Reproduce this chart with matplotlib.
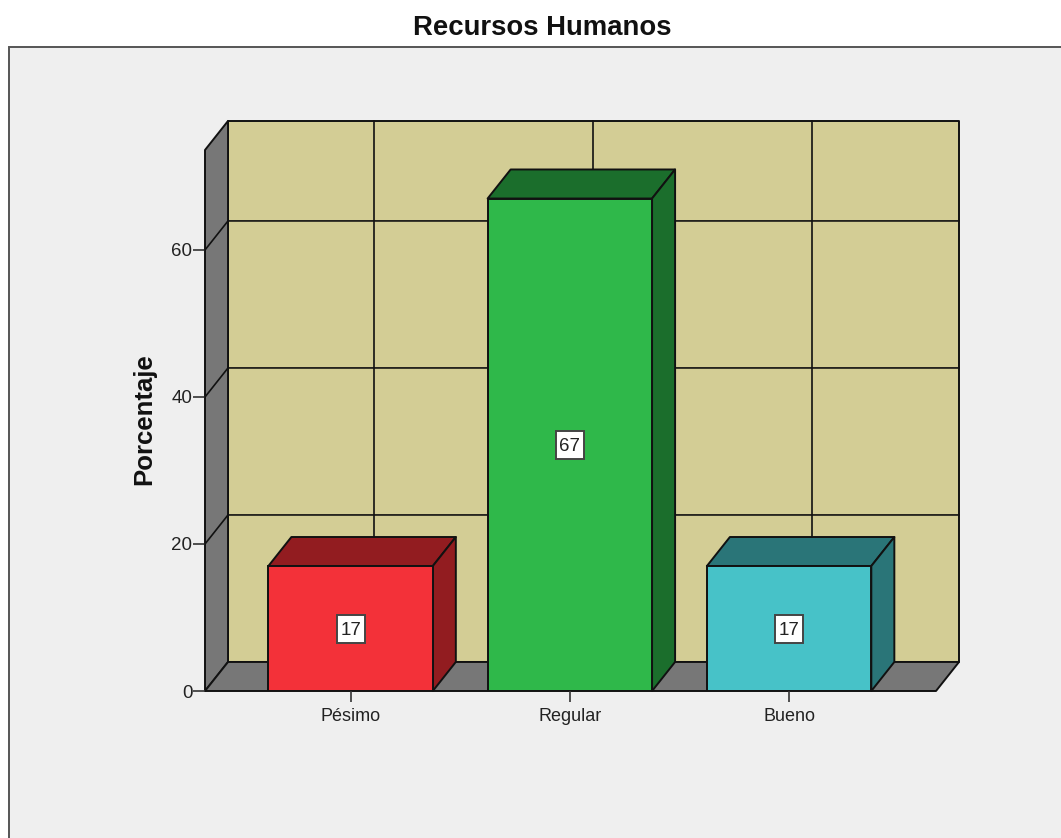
import matplotlib
matplotlib.use('Agg')
import matplotlib.pyplot as plt
from matplotlib.patches import Polygon, Rectangle

categories = ['Pésimo', 'Regular', 'Bueno']
values = [17, 67, 17]
y_ticks = [0, 20, 40, 60]
front_colors = ['#f33139', '#2fb84a', '#47c2c8']
shade_colors = ['#921c20', '#1b6e2c', '#2a7578']

W, H = 1061, 838
WALL = '#d3cd95'
SIDE = '#777777'
PANEL = '#efefef'
INK = '#111111'

plt.rcParams['font.family'] = ['Liberation Sans', 'DejaVu Sans']

fig = plt.figure(figsize=(W / 100, H / 100), dpi=100, facecolor='white')

# panel behind the chart, runs off the right and bottom edges
fig.add_artist(Rectangle((9 / W, -0.02), 1.1, 1 - 47 / H + 0.02, transform=fig.transFigure,
                         facecolor=PANEL, edgecolor='#555555', linewidth=1.4, zorder=-1))

left, right, top, bottom = 205, 936, 150, 691
ax = fig.add_axes([left / W, 1 - bottom / H, (right - left) / W, (bottom - top) / H])
ax.set_xlim(-0.664, 2.67)
ax.set_ylim(0, 73.6)
ax.patch.set_visible(False)
for s in ax.spines.values():
    s.set_visible(False)

x0, x1 = ax.get_xlim()
ymax = ax.get_ylim()[1]
dx, dy = 0.105, 3.95   # depth of the 3D box in data units
bar_w = 0.75


def face(pts, color, z):
    ax.add_patch(Polygon(pts, closed=True, facecolor=color, edgecolor=INK, linewidth=1.4,
                         joinstyle='round', clip_on=False, zorder=z))


# back wall, left wall, floor
face([(x0 + dx, dy), (x1 + dx, dy), (x1 + dx, ymax + dy), (x0 + dx, ymax + dy)], WALL, 1)
face([(x0, 0), (x0 + dx, dy), (x0 + dx, ymax + dy), (x0, ymax)], SIDE, 1)
face([(x0, 0), (x1, 0), (x1 + dx, dy), (x0 + dx, dy)], SIDE, 1)

# grid on the walls
for i in range(len(categories)):
    ax.plot([i + dx, i + dx], [dy, ymax + dy], color=INK, lw=1.2, clip_on=False, zorder=2)
for t in y_ticks[1:]:
    ax.plot([x0, x0 + dx, x1 + dx], [t, t + dy, t + dy], color=INK, lw=1.2, clip_on=False, zorder=2)

# bars as boxes: top, side, then front
for i, v in enumerate(values):
    a, b = i - bar_w / 2, i + bar_w / 2
    face([(a, v), (b, v), (b + dx, v + dy), (a + dx, v + dy)], shade_colors[i], 3)
    face([(b, 0), (b + dx, dy), (b + dx, v + dy), (b, v)], shade_colors[i], 3)
    ax.bar(i, v, width=bar_w, color=front_colors[i], edgecolor=INK, linewidth=1.4, zorder=4)
    # value label on a white square
    ax.plot(i, v / 2, marker='s', ms=20, mfc='white', mec='#444444', mew=1.4, zorder=5)
    ax.text(i, v / 2, str(v), ha='center', va='center_baseline', fontsize=13.5, color='#222222', zorder=6)

ax.set_xticks(range(len(categories)), categories)
ax.set_yticks(y_ticks)
ax.tick_params(axis='x', length=8, width=1.2, color='#333333', pad=4, labelsize=13, labelcolor='#222222')
ax.tick_params(axis='y', length=8.5, width=1.2, color='#333333', pad=0.5, labelsize=13.5, labelcolor='#222222')

fig.text(144 / W, 1 - 419 / H, 'Porcentaje', rotation=90, ha='center', va='center',
         fontsize=18.5, fontweight='bold', color='#111111')
fig.text(542 / W, 1 - 28 / H, 'Recursos Humanos', ha='center', va='center',
         fontsize=19.8, fontweight='bold', color='#111111')

fig.savefig('out.png', dpi=100)
plt.close(fig)
